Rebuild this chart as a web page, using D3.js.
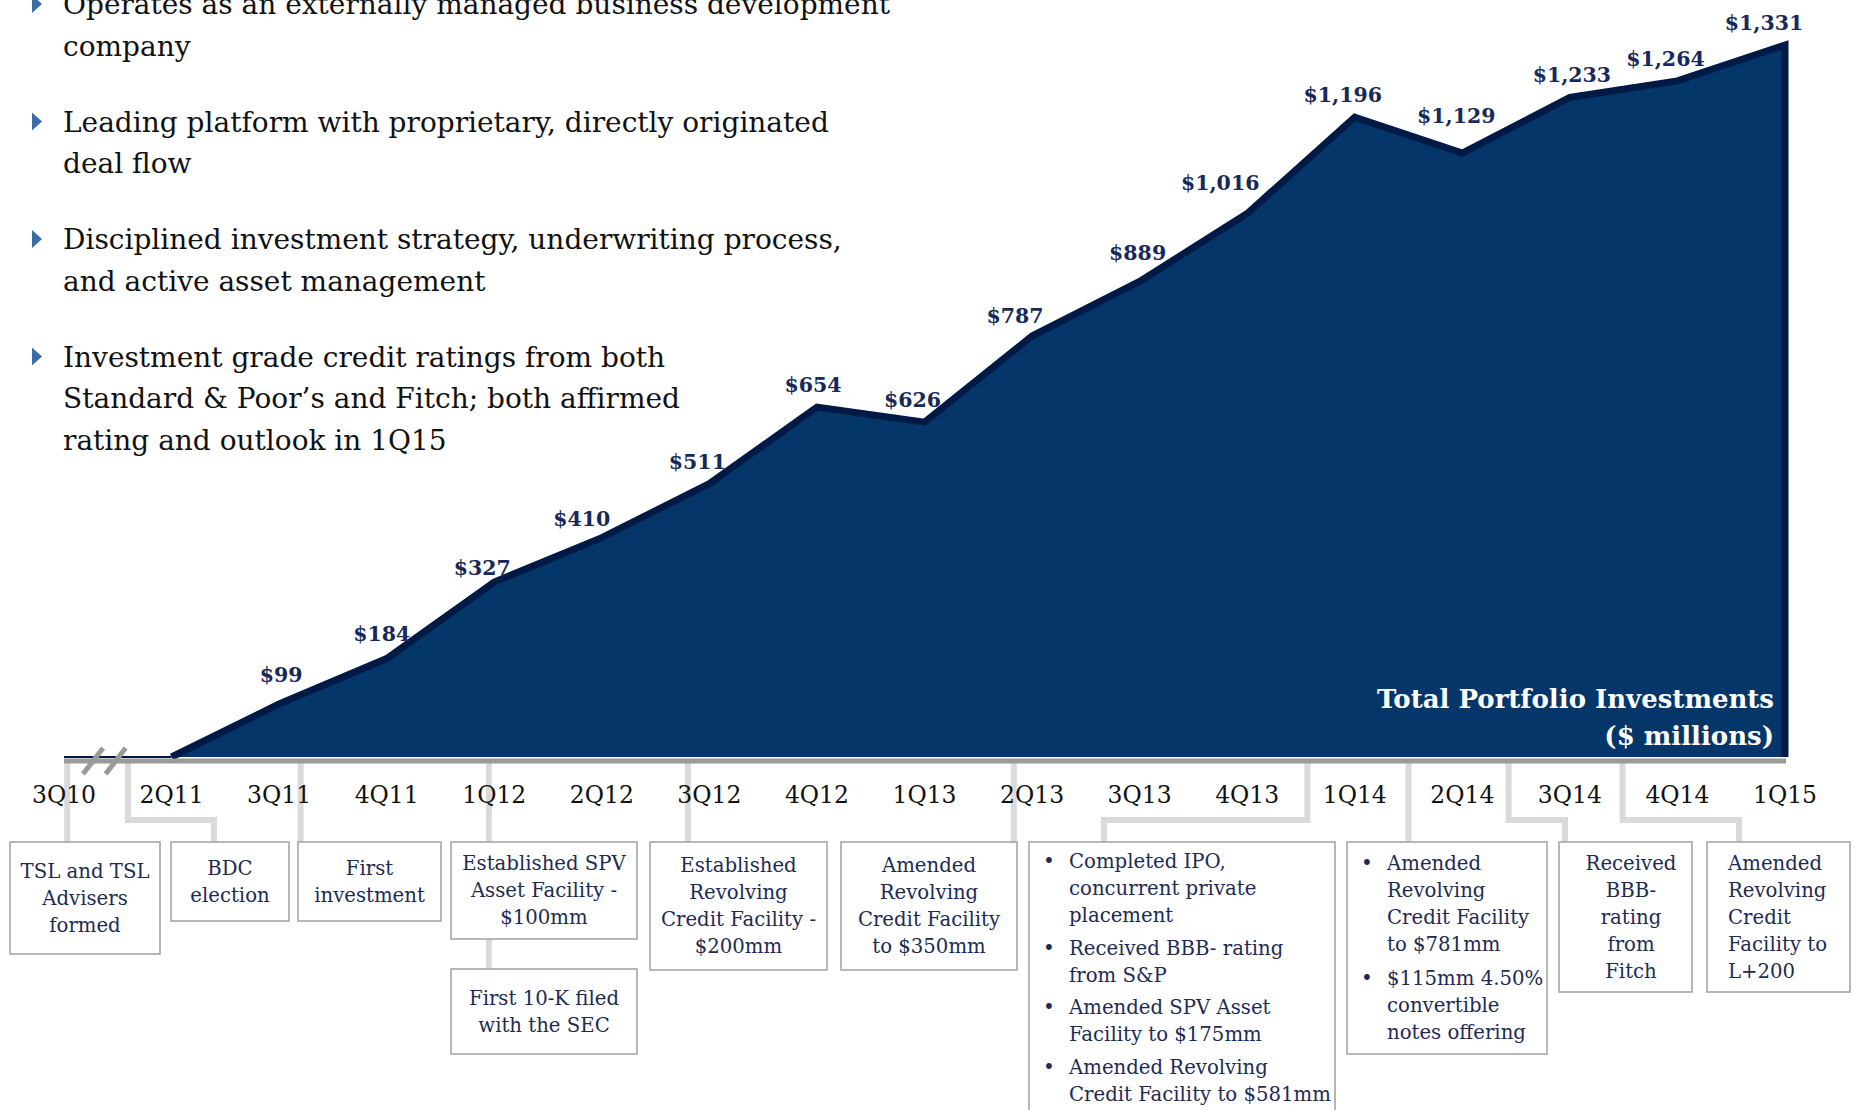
<!DOCTYPE html>
<html lang="en">
<head>
<meta charset="UTF-8">
<title>Total Portfolio Investments</title>
<script src="https://cdnjs.cloudflare.com/ajax/libs/d3/7.8.5/d3.min.js"></script>
<style>
  body { margin: 0; background: #fff; }
  svg { display: block; font-family: 'DejaVu Serif', serif; }
</style>
</head>
<body>
<div id="chart"></div>
<script>
  // ---- data ----
  const quarters = ['3Q10', '2Q11', '3Q11', '4Q11', '1Q12', '2Q12', '3Q12', '4Q12', '1Q13',
    '2Q13', '3Q13', '4Q13', '1Q14', '2Q14', '3Q14', '4Q14', '1Q15'];
  const investments = [0, 0, 99, 184, 327, 410, 511, 654, 626, 787, 889, 1016, 1196, 1129, 1233, 1264, 1331];
  const firstLabelled = 2; // 3Q11 is the first quarter with a $ label

  const highlights = [
    ['Operates as an externally managed business development', 'company'],
    ['Leading platform with proprietary, directly originated', 'deal flow'],
    ['Disciplined investment strategy, underwriting process,', 'and active asset management'],
    ['Investment grade credit ratings from both', 'Standard & Poor’s and Fitch; both affirmed', 'rating and outlook in 1Q15']
  ];

  // when each milestone happened, in quarter-index units along the axis
  const eventAt = [0.03, 0.595, 2.2, 3.95, 3.95, 5.8, 8.83, 11.56, 12.5, 13.43, 14.49];
  const eventText = [
    ['TSL and TSL', 'Advisers', 'formed'],
    ['BDC', 'election'],
    ['First', 'investment'],
    ['Established SPV', 'Asset Facility -', '$100mm'],
    ['First 10-K filed', 'with the SEC'],
    ['Established', 'Revolving', 'Credit Facility -', '$200mm'],
    ['Amended', 'Revolving', 'Credit Facility', 'to $350mm'],
    [['Completed IPO,', 'concurrent private', 'placement'], ['Received BBB- rating', 'from S&P'],
      ['Amended SPV Asset', 'Facility to $175mm'], ['Amended Revolving', 'Credit Facility to $581mm']],
    [['Amended', 'Revolving', 'Credit Facility', 'to $781mm'], ['$115mm 4.50%', 'convertible', 'notes offering']],
    ['Received', 'BBB-', 'rating', 'from', 'Fitch'],
    ['Amended', 'Revolving', 'Credit', 'Facility to', 'L+200']
  ];

  // ---- layout ----
  const W = 1855, H = 1110;
  const base = 757, axisY = 761, elbowY = 820;
  const navy = '#04366a', navyDark = '#001a46', boxInk = '#1d2b55';

  // hand nudges for the $ labels so they clear the outline
  const labelNudge = {
    '3Q11': [14, -7], '4Q11': [7, -3], '1Q12': [0, 8], '2Q12': [-8, 3], '4Q12': [8, 0],
    '2Q13': [-5, 2], '3Q13': [10, -6], '4Q13': [-15, -9], '2Q14': [6, -15], '3Q14': [14, 0], '1Q15': [-9, 0]
  };

  // box frames for the milestones (same order as eventText)
  const boxes = [
    { x0: 10, x1: 160, y0: 842, y1: 954 },
    { x0: 171, x1: 289, y0: 842, y1: 921, dropX: 214 },
    { x0: 298, x1: 441, y0: 842, y1: 921 },
    { x0: 451, x1: 637, y0: 842, y1: 939 },
    { x0: 451, x1: 637, y0: 969, y1: 1054, chained: true },
    { x0: 650, x1: 827, y0: 842, y1: 970 },
    { x0: 841, x1: 1017, y0: 842, y1: 970 },
    { x0: 1029, x1: 1335, y0: 842, y1: 1140, dropX: 1104, top: true, gap: 5.5 },
    { x0: 1347, x1: 1547, y0: 842, y1: 1054, gap: 7 },
    { x0: 1559, x1: 1692, y0: 842, y1: 992, dropX: 1565, tx: 1631 },
    { x0: 1707, x1: 1850, y0: 842, y1: 992, dropX: 1739, left: 1728 }
  ];

  const svg = d3.select('#chart').append('svg')
    .attr('width', W)
    .attr('height', H);

  const x = d3.scalePoint().domain(quarters).range([64, 1785]);
  const xAt = d3.scaleLinear().domain([0, quarters.length - 1]).range([64, 1785]);
  const y = d3.scaleLinear().domain([0, d3.max(investments)]).range([base, 45]);

  const pts = quarters.map((q, i) => ({ q, v: investments[i] }));

  // area
  const area = d3.area()
    .x(d => x(d.q))
    .y0(base)
    .y1(d => y(d.v));

  svg.append('path')
    .datum(pts)
    .attr('d', area)
    .attr('fill', navy);

  // thin flat part before the break
  svg.append('line')
    .attr('x1', x(quarters[0])).attr('x2', x(quarters[1]))
    .attr('y1', base).attr('y2', base)
    .attr('stroke', navyDark).attr('stroke-width', 2);

  // thick outline on top, then down the right edge
  const outline = pts.slice(1).map(d => [x(d.q), y(d.v)]);
  outline.push([x(quarters[quarters.length - 1]), base]);
  svg.append('path')
    .attr('d', d3.line()(outline))
    .attr('fill', 'none')
    .attr('stroke', navyDark)
    .attr('stroke-width', 7)
    .attr('stroke-linejoin', 'miter');

  svg.append('text')
    .attr('x', 1774).attr('y', 708)
    .attr('text-anchor', 'end')
    .attr('fill', '#fff')
    .attr('font-weight', 'bold')
    .attr('font-size', 26)
    .text('Total Portfolio Investments');
  svg.append('text')
    .attr('x', 1774).attr('y', 745)
    .attr('text-anchor', 'end')
    .attr('fill', '#fff')
    .attr('font-weight', 'bold')
    .attr('font-size', 26)
    .text('($ millions)');

  // value labels
  svg.selectAll('.val')
    .data(pts.slice(firstLabelled))
    .enter()
    .append('text')
    .attr('class', 'val')
    .attr('x', d => x(d.q) - 12 + (labelNudge[d.q] || [0, 0])[0])
    .attr('y', d => y(d.v) - 15 + (labelNudge[d.q] || [0, 0])[1])
    .attr('text-anchor', 'middle')
    .attr('font-weight', 'bold')
    .attr('font-size', 20.5)
    .attr('fill', '#17295a')
    .text(d => d3.format('$,')(d.v));

  // connectors from the axis to the boxes
  const conn = svg.append('g')
    .attr('fill', 'none')
    .attr('stroke', '#dadada')
    .attr('stroke-width', 6);

  boxes.forEach((b, i) => {
    const ex = xAt(eventAt[i]);
    let p;
    if (b.chained) p = [[ex, boxes[i - 1].y1], [ex, b.y0]];
    else if (b.dropX) p = [[ex, axisY], [ex, elbowY], [b.dropX, elbowY], [b.dropX, b.y0]];
    else p = [[ex, axisY], [ex, b.y0]];
    conn.append('path').attr('d', d3.line()(p));
  });

  // axis line + break marks
  svg.append('line')
    .attr('x1', 64).attr('x2', 1786)
    .attr('y1', axisY).attr('y2', axisY)
    .attr('stroke', '#9a9a9a').attr('stroke-width', 5);

  [0.27, 0.48].forEach(t => {
    const cx = xAt(t);
    svg.append('line')
      .attr('x1', cx - 10).attr('y1', axisY + 13)
      .attr('x2', cx + 10).attr('y2', axisY - 13)
      .attr('stroke', '#9a9a9a').attr('stroke-width', 5);
  });

  // tick labels
  svg.selectAll('.tick')
    .data(quarters)
    .enter()
    .append('text')
    .attr('class', 'tick')
    .attr('x', d => x(d))
    .attr('y', 803)
    .attr('text-anchor', 'middle')
    .attr('font-size', 23.5)
    .attr('fill', '#111')
    .text(d => d);

  // milestone boxes
  const lh = 27;
  boxes.forEach((b, i) => {
    const g = svg.append('g');
    g.append('rect')
      .attr('x', b.x0).attr('y', b.y0)
      .attr('width', b.x1 - b.x0).attr('height', b.y1 - b.y0)
      .attr('fill', '#fff')
      .attr('stroke', '#a6a6a6')
      .attr('stroke-width', 1.6);

    const t = eventText[i];
    const bulleted = Array.isArray(t[0]);
    const groups = bulleted ? t : [t];
    const gap = b.gap || 0;
    const nLines = d3.sum(groups, gr => gr.length);
    const block = nLines * lh + (groups.length - 1) * gap;
    let yy = b.top ? b.y0 + 26 : b.y0 + (b.y1 - b.y0 - block) / 2 + 20;

    groups.forEach(gr => {
      if (bulleted) {
        g.append('text')
          .attr('x', b.x0 + 20).attr('y', yy)
          .attr('text-anchor', 'middle')
          .attr('font-size', 20)
          .attr('fill', boxInk)
          .text('•');
      }
      gr.forEach(line => {
        const tx = bulleted ? b.x0 + 40 : (b.left || b.tx || (b.x0 + b.x1) / 2);
        g.append('text')
          .attr('x', tx).attr('y', yy)
          .attr('text-anchor', bulleted || b.left ? 'start' : 'middle')
          .attr('font-size', 19.7)
          .attr('fill', boxInk)
          .text(line);
        yy += lh;
      });
      yy += gap;
    });
  });

  // highlights on the left
  let by = 14;
  highlights.forEach(item => {
    svg.append('path')
      .attr('d', d3.line()([[32, by - 19], [42, by - 10], [32, by - 1]]) + 'Z')
      .attr('fill', '#3b6ca6');
    item.forEach((line, j) => {
      svg.append('text')
        .attr('x', 63).attr('y', by + j * 41.5)
        .attr('font-size', 28)
        .attr('fill', '#111')
        .text(line);
    });
    by += (item.length - 1) * 41.5 + 76;
  });
</script>
</body>
</html>
